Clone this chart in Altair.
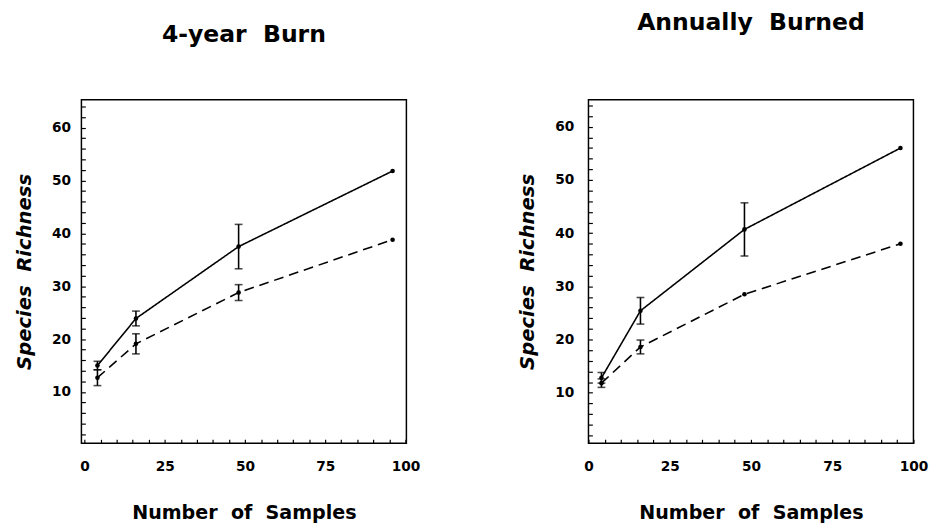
import altair as alt
import pandas as pd

# ---- data ----
samples = [4, 16, 48, 96]

four_solid = [15.0, 23.9, 37.5, 51.8]
four_solid_err = [0.8, 1.4, 4.2, None]
four_dashed = [12.7, 19.1, 28.8, 38.8]
four_dashed_err = [1.5, 1.9, 1.5, None]

annual_solid = [12.8, 25.4, 40.7, 56.0]
annual_solid_err = [1.0, 2.5, 5.0, None]
annual_dashed = [11.8, 18.6, 28.5, 38.0]
annual_dashed_err = [0.8, 1.3, None, None]

x_label_values = [0, 25, 50, 75, 100]
y_label_values = [10, 20, 30, 40, 50, 60]

FONT = "DejaVu Sans"
NB = "\u00a0"


def frames(solid, solid_err, dashed, dashed_err):
    rows, errs = [], []
    for name, vals, err in (("solid", solid, solid_err), ("dashed", dashed, dashed_err)):
        for n, v, e in zip(samples, vals, err):
            rows.append({"n": n, "richness": v, "series": name})
            if e is not None:
                errs.append({"n": n, "lo": v - e, "hi": v + e, "series": name})
    return pd.DataFrame(rows), pd.DataFrame(errs)


def panel(title, title_offset, xdom, ydom, solid, solid_err,
          dashed, dashed_err, ylabpad, ytitlepad):
    df, edf = frames(solid, solid_err, dashed, dashed_err)
    xs = alt.Scale(domain=xdom, nice=False, zero=False)
    ys = alt.Scale(domain=ydom, nice=False, zero=False)
    xlabs = ",".join(str(v) for v in x_label_values)
    ylabs = ",".join(str(v) for v in y_label_values)
    xaxis = alt.Axis(
        values=list(range(0, 101, 5)),
        labelExpr=f"indexof([{xlabs}], datum.value) >= 0 ? datum.label : ''",
        title=f"Number{NB}{NB}of{NB}{NB}Samples",
        offset=-4, tickSize=4, tickWidth=1.2, tickColor="black",
        domain=False, grid=False, labelOverlap=False, labelFlush=False,
        labelPadding=17, labelFont=FONT, labelFontSize=14, labelFontWeight="bold",
        labelColor="black", titleFont=FONT, titleFontSize=19.5,
        titleFontWeight="bold", titleColor="black", titlePadding=31,
    )
    yaxis = alt.Axis(
        values=list(range(2, 65, 2)),
        labelExpr=f"indexof([{ylabs}], datum.value) >= 0 ? datum.label : ''",
        title=f"Species{NB}{NB}Richness",
        offset=-4, tickSize=4, tickWidth=1.2, tickColor="black",
        domain=False, grid=False, labelOverlap=False,
        labelPadding=ylabpad, labelFont=FONT, labelFontSize=14, labelFontWeight="bold",
        labelColor="black", titleFont=FONT, titleFontSize=20,
        titleFontWeight="bold", titleFontStyle="italic", titleColor="black",
        titlePadding=ytitlepad,
    )
    X = alt.X("n:Q", scale=xs, axis=xaxis)
    base = alt.Chart(df)
    line = base.mark_line(color="black", strokeWidth=1.6).encode(
        x=X,
        y=alt.Y("richness:Q", scale=ys, axis=yaxis),
        strokeDash=alt.StrokeDash("series:N", legend=None,
                                  scale=alt.Scale(domain=["solid", "dashed"],
                                                  range=[[1, 0], [10, 6]])),
        detail="series:N",
    )
    pts = base.mark_circle(size=22, color="black", opacity=1).encode(
        x=X, y=alt.Y("richness:Q", scale=ys, axis=yaxis)
    )
    eb = alt.Chart(edf)
    rule = eb.mark_rule(color="black", strokeWidth=1.6).encode(
        x=X, y=alt.Y("lo:Q", scale=ys, axis=yaxis), y2="hi:Q"
    )
    cap_lo = eb.mark_tick(orient="horizontal", size=8, thickness=1.6, color="black").encode(
        x=X, y=alt.Y("lo:Q", scale=ys, axis=yaxis)
    )
    cap_hi = eb.mark_tick(orient="horizontal", size=8, thickness=1.6, color="black").encode(
        x=X, y=alt.Y("hi:Q", scale=ys, axis=yaxis)
    )
    return alt.layer(line, rule, cap_lo, cap_hi, pts).properties(
        width=332, height=351,
        title=alt.TitleParams(
            text=title, font=FONT, fontSize=24, fontWeight="bold",
            color="black", anchor="middle", frame="group", offset=title_offset,
        ),
    )


left = panel(f"4-year{NB}{NB}Burn", 54, [-1.0, 100.3], [0.3, 65.3],
             four_solid, four_solid_err, four_dashed, four_dashed_err, 11, 18)
right = panel(f"Annually{NB}{NB}Burned", 65, [0, 100], [0.5, 65.1],
              annual_solid, annual_solid_err, annual_dashed, annual_dashed_err, 15, 18)

chart = alt.hconcat(left, right, spacing=97).properties(
    padding={"left": 5, "top": -3, "right": 5, "bottom": 0}
).configure_view(stroke="black", strokeWidth=1.5)

chart.save("out.html", embed_options={"renderer": "svg", "actions": False})
